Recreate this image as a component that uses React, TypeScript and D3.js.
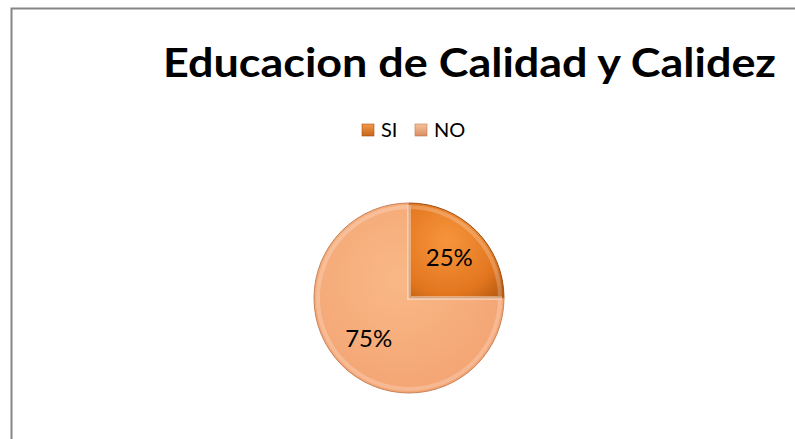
import React from 'react';
import * as d3 from 'd3';

const categories = ['SI', 'NO'];
const values = [25, 75];
const labels = ['25%', '75%'];
const title = 'Educacion de Calidad y Calidez';

const W = 795;
const H = 439;

export default function App() {
  const cx = 409;
  const cy = 298;
  const r = 95;

  const pie = d3.pie<number>().sort(null).value(d => d);
  const arcs = pie(values);
  const arc = d3.arc<d3.PieArcDatum<number>>().innerRadius(0).outerRadius(r);
  const innerArc = d3.arc<d3.PieArcDatum<number>>().innerRadius(0).outerRadius(r - 4);
  const labelArc = d3.arc<d3.PieArcDatum<number>>().innerRadius(r * 0.6).outerRadius(r * 0.6);

  const fills = ['url(#gSI)', 'url(#gNO)'];
  const legendFills = ['url(#lSI)', 'url(#lNO)'];
  const legendX = d3.scaleOrdinal<string, number>().domain(categories).range([362, 415]);

  return (
    <svg width={W} height={H} style={{ position: 'absolute', left: 0, top: 0 }}
      fontFamily="Lato, 'Open Sans', 'Liberation Sans', sans-serif">
      <defs>
        <radialGradient id="gSI" cx="0.4" cy="0.4" r="0.8">
          <stop offset="0" stopColor="#f7953c" />
          <stop offset="0.7" stopColor="#e2761f" />
          <stop offset="1" stopColor="#b85a12" />
        </radialGradient>
        <radialGradient id="gNO" cx="0.45" cy="0.4" r="0.75">
          <stop offset="0" stopColor="#f9b887" />
          <stop offset="0.8" stopColor="#f4a574" />
          <stop offset="1" stopColor="#d98656" />
        </radialGradient>
        <linearGradient id="lSI" x1="0" y1="0" x2="0" y2="1">
          <stop offset="0" stopColor="#f39a4a" />
          <stop offset="1" stopColor="#c8651a" />
        </linearGradient>
        <linearGradient id="lNO" x1="0" y1="0" x2="0" y2="1">
          <stop offset="0" stopColor="#f8c29a" />
          <stop offset="1" stopColor="#d98d62" />
        </linearGradient>
      </defs>
      <rect x={0} y={0} width={W} height={H} fill="#ffffff" />
      <rect x={11.5} y={8.5} width={W} height={H} fill="#ffffff" stroke="#868686" strokeWidth={2} />

      <text x={469.5} y={77} textAnchor="middle" fontSize={41} fontWeight="bold" fill="#000"
        textLength={613} lengthAdjust="spacingAndGlyphs">{title}</text>

      {categories.map((c, i) => (
        <g key={c} transform={`translate(${legendX(c)},124)`}>
          <rect width={12} height={12} fill={legendFills[i]} stroke={i === 0 ? '#a8551a' : '#c07a55'} strokeWidth={0.6} />
          <text x={19} y={12.5} fontSize={20} fill="#000">{c}</text>
        </g>
      ))}

      <g transform={`translate(${cx},${cy})`}>
        {arcs.map((a, i) => (
          <path key={categories[i]} d={arc(a) || ''} fill={fills[i]} stroke={i === 0 ? '#9e4f14' : '#c9845c'} strokeWidth={1} />
        ))}
        {/* soft bevel */}
        {arcs.map((a, i) => (
          <path key={'h' + i} d={innerArc(a) || ''}
            fill="none" stroke="#ffffff" strokeOpacity={0.22} strokeWidth={4} />
        ))}
        {arcs.map((a, i) => {
          const [x, y] = labelArc.centroid(a);
          return (
            <text key={'t' + i} x={x} y={y} dy="0.36em" textAnchor="middle" fontSize={24} fill="#000">{labels[i]}</text>
          );
        })}
      </g>
    </svg>
  );
}
